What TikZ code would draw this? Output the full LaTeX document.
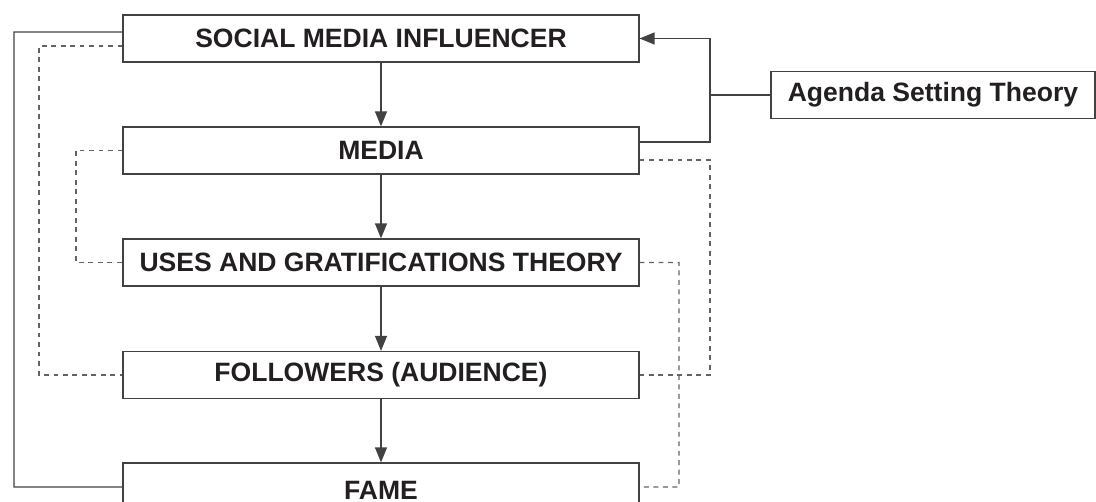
\documentclass[tikz,border=0pt]{standalone}
\usepackage{fontspec}
\setmainfont{Liberation Sans}
\usetikzlibrary{arrows.meta}
\definecolor{ink}{HTML}{231F20}
\tikzstyle{box}=[draw=ink!85, line width=0.7pt, fill=white, minimum width=10.32cm, minimum height=0.94cm, inner sep=0pt, font=\fontsize{15.1}{17}\selectfont\bfseries, text=ink]
\tikzstyle{link}=[draw=ink!85, line width=0.7pt]
\tikzstyle{dotlink}=[draw=ink!70, line width=0.7pt, dash pattern=on 2.8pt off 2.6pt]
\tikzstyle{tip}=[-{Triangle[length=0.3cm, width=0.24cm]}]

\begin{document}
\begin{tikzpicture}[x=0.02cm, y=-0.02cm]
\useasboundingbox (0,0) rectangle (1096,502);
\node[box] at (381, 38.5) (infl) {SOCIAL MEDIA INFLUENCER};
\node[box] at (381, 150.5) (media) {MEDIA};
\node[box] at (381, 262.5) (ugt) {USES AND GRATIFICATIONS THEORY};
\node[box] at (381, 375) (foll) {FOLLOWERS (AUDIENCE)};
\node[box, minimum height=1.08cm] at (381, 490) (fame) {FAME};
\node[box, minimum width=6.48cm] at (933, 95) (agenda) {Agenda Setting Theory};
% corners of the side lines
\coordinate (fb) at (710, 95);
\coordinate (lsol) at (14, 487);
\coordinate (ldash1) at (39, 375);
\coordinate (ldash2) at (76, 262.5);
\coordinate (rdash1) at (710, 375);
\coordinate (rdash2) at (679, 487);
\draw[link, tip] (infl) -- (media);
\draw[link, tip] (media) -- (ugt);
\draw[link, tip] (ugt) -- (foll);
\draw[link, tip] (foll) -- (fame);
\draw[link, tip] ([yshift=0.17cm]media.east) -| (fb) |- (infl.east);
\draw[link] (fb) -- (agenda);
\draw[link] ([yshift=0.13cm]infl.west) -| (lsol) -- ([yshift=0.06cm]fame.west);
\draw[dotlink] ([yshift=-0.15cm]infl.west) -| (ldash1) -- (foll.west);
\draw[dotlink] (media.west) -| (ldash2) -- (ugt.west);
\draw[dotlink] ([yshift=-0.19cm]media.east) -| (rdash1) -- (foll.east);
\draw[dotlink] (ugt.east) -| (rdash2) -- ([yshift=0.06cm]fame.east);
\end{tikzpicture}
\end{document}
